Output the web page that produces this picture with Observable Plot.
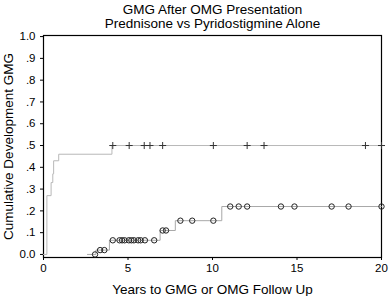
<!DOCTYPE html>
<html>
<head>
<meta charset="utf-8">
<script src="https://cdn.jsdelivr.net/npm/d3@7"></script>
<script src="https://cdn.jsdelivr.net/npm/@observablehq/plot@0.6"></script>
<style>
  html, body { margin: 0; padding: 0; background: #fff; }
  #chart svg { display: block; }
</style>
</head>
<body>
<div id="chart"></div>
<script>
const titleLines = ["GMG After OMG Presentation", "Prednisone vs Pyridostigmine Alone"];
const xLabel = "Years to GMG or OMG Follow Up";
const yLabel = "Cumulative Development GMG";

const xTicks = [0, 5, 10, 15, 20];
const xTickLabels = ["0", "5", "10", "15", "20"];
const yTicks = [0, 0.1, 0.2, 0.3, 0.4, 0.5, 0.6, 0.7, 0.8, 0.9, 1.0];
const yTickLabels = ["0.0", ".1", ".2", ".3", ".4", ".5", ".6", ".7", ".8", ".9", "1.0"];

// Prednisone: step curve (time, cumulative)
const predTimes = [0, 0.2, 0.45, 0.55, 0.6, 0.9, 4.05, 20];
const predCum   = [0, 0.27, 0.33, 0.37, 0.43, 0.46, 0.5, 0.5];
const predCensored = [4.1, 5.07, 5.96, 6.3, 7.05, 10.05, 12.05, 13.05, 19.05, 20];

// Pyridostigmine alone: step curve
const pyrTimes = [2.6, 3.1, 3.9, 6.9, 7.8, 10.55, 20];
const pyrCum   = [0, 0.02, 0.065, 0.11, 0.155, 0.22, 0.22];
const pyrCensored = [3.05, 3.35, 3.6, 4.1, 4.5, 4.65, 4.8, 5.05, 5.2, 5.35, 5.6, 5.75, 6.0, 6.55,
  7.05, 7.25, 8.1, 8.8, 10.05, 11.05, 11.55, 12.05, 14.05, 14.85, 17.05, 18.05, 20.0];

function levelAt(times, cum, t) {
  let v = cum[0];
  for (let i = 0; i < times.length; i++) if (times[i] <= t) v = cum[i];
  return v;
}

const predLine = predTimes.map((t, i) => ({t, c: predCum[i]}));
const pyrLine = pyrTimes.map((t, i) => ({t, c: pyrCum[i]}));
const predMarks = predCensored.map(t => ({t, c: levelAt(predTimes, predCum, t)}));
const pyrMarks = pyrCensored.map(t => ({t, c: levelAt(pyrTimes, pyrCum, t)}));

const ytf = d => yTickLabels[yTicks.findIndex(v => Math.abs(v - d) < 1e-9)];
const xtf = d => xTickLabels[xTicks.indexOf(d)];

const chart = Plot.plot({
  width: 390,
  height: 296,
  marginLeft: 43,
  marginRight: 9,
  marginTop: 35,
  marginBottom: 39,
  style: {fontFamily: "'Liberation Sans', Arial, sans-serif", fontSize: "11px", color: "#000", background: "#fff"},
  x: {domain: [0, 20]},
  y: {domain: [-0.014, 1.005]},
  marks: [
    Plot.axisX({ticks: xTicks, tickFormat: xtf, tickSize: 3, tickPadding: 3, label: null, fontSize: 11.5}),
    Plot.axisY({ticks: yTicks, tickFormat: ytf, tickSize: 3, tickPadding: 5, label: null, fontSize: 11.5}),
    Plot.frame({stroke: "#000", strokeWidth: 1.2}),
    Plot.line(predLine, {x: "t", y: "c", curve: "step-after", stroke: "#b8b8b8", strokeWidth: 1}),
    Plot.line(pyrLine, {x: "t", y: "c", curve: "step-after", stroke: "#a8a8a8", strokeWidth: 1}),
    Plot.dot(predMarks, {x: "t", y: "c", symbol: "plus", r: 2.4, stroke: "#333", strokeWidth: 1}),
    Plot.dot(pyrMarks, {x: "t", y: "c", symbol: "circle", r: 2.7, stroke: "#222", fill: "none", strokeWidth: 1}),
    Plot.text([titleLines[0]], {frameAnchor: "top", lineAnchor: "middle", dy: -25.5, fontSize: 13.5, fill: "#000"}),
    Plot.text([titleLines[1]], {frameAnchor: "top", lineAnchor: "middle", dy: -11.5, fontSize: 13.5, fill: "#000"}),
    Plot.text([xLabel], {frameAnchor: "bottom", lineAnchor: "middle", dy: 32, fontSize: 13.5, fill: "#000"}),
    Plot.text([yLabel], {frameAnchor: "left", dx: -35, rotate: -90, textAnchor: "middle", fontSize: 13.5, fill: "#000"})
  ]
});
document.getElementById("chart").appendChild(chart);
</script>
</body>
</html>
